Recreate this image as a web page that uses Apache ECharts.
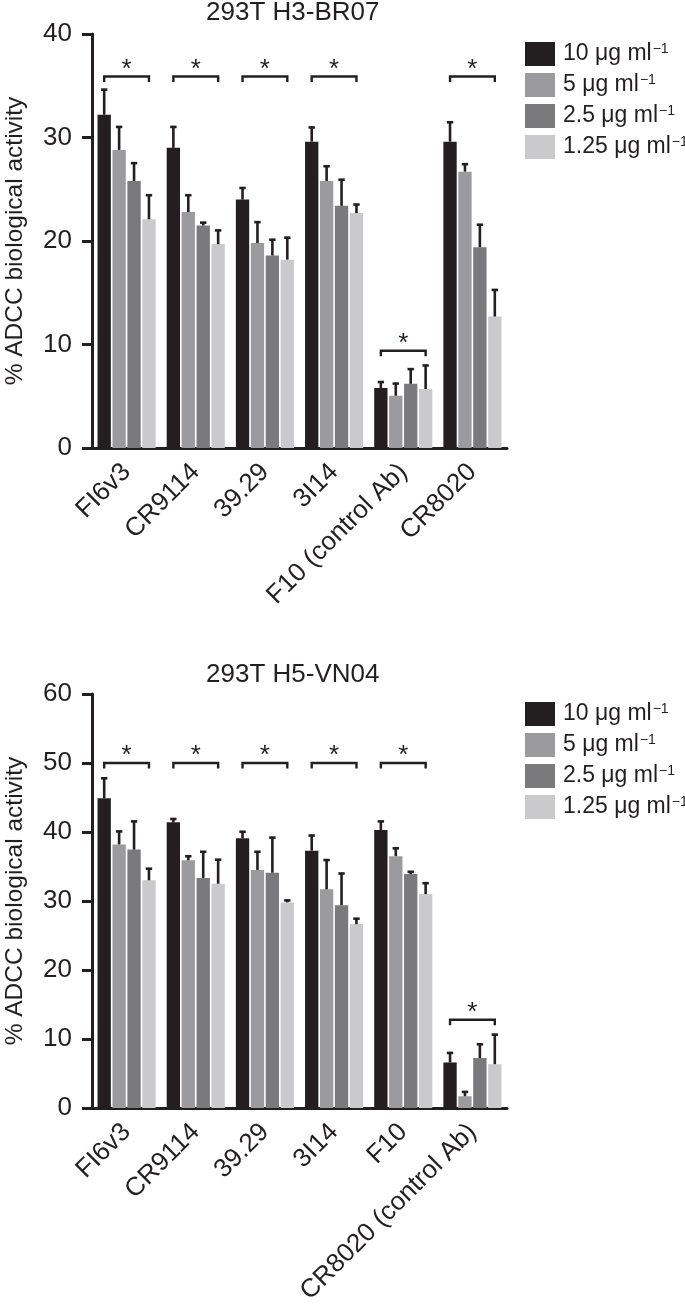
<!DOCTYPE html>
<html>
<head>
<meta charset="utf-8">
<script src="https://cdn.jsdelivr.net/npm/echarts@6/dist/echarts.min.js"></script>
<style>
html,body{margin:0;padding:0;background:#fff;}
#chart{width:685px;height:1312px;}
</style>
</head>
<body>
<div id="chart"></div>
<script>
// ---- data ----
const concentrations = ['10 μg ml', '5 μg ml', '2.5 μg ml', '1.25 μg ml'];
const unitSup = '−1';

const titleTop = '293T H3-BR07';
const categoriesTop = ['FI6v3', 'CR9114', '39.29', '3I14', 'F10 (control Ab)', 'CR8020'];
const top10 = [32.2, 29.0, 24.0, 29.6, 5.8, 29.6];
const top10Err = [2.5, 2.1, 1.2, 1.45, 0.65, 1.95];
const top5 = [28.8, 22.8, 19.8, 25.8, 5.05, 26.7];
const top5Err = [2.3, 1.7, 2.1, 1.5, 1.25, 0.8];
const top2_5 = [25.8, 21.5, 18.6, 23.4, 6.2, 19.4];
const top2_5Err = [1.8, 0.35, 1.6, 2.6, 1.5, 2.25];
const top1_25 = [22.1, 19.7, 18.2, 22.7, 5.7, 12.7];
const top1_25Err = [2.4, 1.4, 2.2, 0.9, 2.35, 2.65];
const topSig = [35.9, 35.9, 35.9, 35.9, 9.4, 35.9];
const topYTicks = [0, 10, 20, 30, 40];

const titleBottom = '293T H5-VN04';
const categoriesBottom = ['FI6v3', 'CR9114', '39.29', '3I14', 'F10', 'CR8020 (control Ab)'];
const bot10 = [44.9, 41.4, 39.1, 37.3, 40.3, 6.6];
const bot10Err = [3.0, 0.6, 1.05, 2.3, 1.35, 1.5];
const bot5 = [38.2, 35.9, 34.5, 31.7, 36.5, 1.7];
const bot5Err = [2.0, 0.7, 2.75, 4.35, 1.25, 0.75];
const bot2_5 = [37.45, 33.35, 34.1, 29.4, 33.9, 7.25];
const bot2_5Err = [4.2, 3.9, 5.2, 4.7, 0.45, 2.1];
const bot1_25 = [33.0, 32.5, 29.8, 26.65, 31.0, 6.35];
const bot1_25Err = [1.8, 3.6, 0.4, 0.9, 1.7, 4.4];
const botSig = [50, 50, 50, 50, 50, 12.8];
const botYTicks = [0, 10, 20, 30, 40, 50, 60];

const yAxisName = '% ADCC biological activity';

// ---- styling ----
const FONT = "'Liberation Sans', Arial, Helvetica, sans-serif";
const INK = '#231f20';
const COLORS = ['#231f20', '#9b9b9d', '#7a7a7c', '#cacacc'];
const CAT_GAP = 0.16;
const BAR_GAP = 0.12;

const topMeans = [top10, top5, top2_5, top1_25];
const topErrs = [top10Err, top5Err, top2_5Err, top1_25Err];
const botMeans = [bot10, bot5, bot2_5, bot1_25];
const botErrs = [bot10Err, bot5Err, bot2_5Err, bot1_25Err];

function barX(api, cat, k) {
  const band = api.size([1, 0])[0];
  const usable = band * (1 - CAT_GAP);
  const bw = usable / (4 + 3 * BAR_GAP);
  const cx = api.coord([cat, 0])[0];
  return cx - usable / 2 + k * bw * (1 + BAR_GAP) + bw / 2;
}

function renderErr(params, api) {
  const cat = api.value(0), k = api.value(1), v = api.value(2), e = api.value(3);
  const x = barX(api, cat, k);
  const y0 = api.coord([cat, v])[1];
  const y1 = api.coord([cat, v + e])[1];
  const st = { stroke: INK, lineWidth: 2.6 };
  return {
    type: 'group',
    children: [
      { type: 'line', shape: { x1: x, y1: y0, x2: x, y2: y1 }, style: st },
      { type: 'line', shape: { x1: x - 3.2, y1: y1 + 0.8, x2: x + 3.2, y2: y1 + 0.8 }, style: st }
    ]
  };
}

function renderSig(params, api) {
  const cat = api.value(0), v = api.value(1);
  const xl = barX(api, cat, 0);
  const xr = barX(api, cat, 3);
  const y = api.coord([cat, v])[1];
  return {
    type: 'group',
    children: [
      { type: 'polyline', shape: { points: [[xl, y + 5.5], [xl, y], [xr, y], [xr, y + 5.5]] },
        style: { stroke: INK, lineWidth: 2.4, fill: null } },
      { type: 'text', x: (xl + xr) / 2, y: y - 7,
        style: { text: '*', fill: INK, font: '26px ' + FONT, textAlign: 'center', textVerticalAlign: 'middle' } }
    ]
  };
}

function errData(means, errs) {
  const out = [];
  for (let k = 0; k < means.length; k++)
    for (let i = 0; i < means[k].length; i++) out.push([i, k, means[k][i], errs[k][i]]);
  return out;
}

const GRID_LEFT = 92, GRID_W = 415, GRID_H = 414;
const grids = [
  { left: GRID_LEFT, top: 34, width: GRID_W, height: GRID_H, containLabel: false, outerBoundsMode: 'none' },
  { left: GRID_LEFT, top: 694, width: GRID_W, height: GRID_H, containLabel: false, outerBoundsMode: 'none' }
];

function xAxisCfg(idx, cats) {
  return {
    type: 'category', gridIndex: idx, data: cats,
    axisLine: { lineStyle: { color: INK, width: 3 } },
    axisTick: { alignWithLabel: true, length: 8, lineStyle: { color: INK, width: 3 } },
    axisLabel: { rotate: 45, margin: 20, color: INK, fontSize: 26, fontFamily: FONT, interval: 0, hideOverlap: false },
    splitLine: { show: false }
  };
}
function yAxisCfg(idx, ticks) {
  return {
    type: 'value', gridIndex: idx, min: ticks[0], max: ticks[ticks.length - 1],
    interval: ticks[1] - ticks[0],
    name: yAxisName, nameLocation: 'middle', nameGap: 64, nameRotate: 90, nameMoveOverlap: false,
    nameTextStyle: { fontSize: 24.5, fontFamily: FONT, color: INK },
    axisLine: { show: true, lineStyle: { color: INK, width: 3 } },
    axisTick: { show: true, length: 10, lineStyle: { color: INK, width: 3 } },
    axisLabel: { margin: 20, color: INK, fontSize: 26, fontFamily: FONT },
    splitLine: { show: false }
  };
}

const series = [];
[[topMeans, 0], [botMeans, 1]].forEach(([means, g]) => {
  means.forEach((arr, k) => {
    series.push({
      type: 'bar', name: concentrations[k], xAxisIndex: g, yAxisIndex: g,
      data: arr, barCategoryGap: (CAT_GAP * 100) + '%', barGap: (BAR_GAP * 100) + '%',
      itemStyle: { color: COLORS[k] }, z: 2, silent: true
    });
  });
});
series.push({ type: 'custom', xAxisIndex: 0, yAxisIndex: 0, renderItem: renderErr,
  data: errData(topMeans, topErrs), encode: { x: 0, y: 2 }, z: 5, silent: true });
series.push({ type: 'custom', xAxisIndex: 1, yAxisIndex: 1, renderItem: renderErr,
  data: errData(botMeans, botErrs), encode: { x: 0, y: 2 }, z: 5, silent: true });
series.push({ type: 'custom', xAxisIndex: 0, yAxisIndex: 0, renderItem: renderSig,
  data: topSig.map((v, i) => [i, v]), encode: { x: 0, y: 1 }, z: 5, silent: true });
series.push({ type: 'custom', xAxisIndex: 1, yAxisIndex: 1, renderItem: renderSig,
  data: botSig.map((v, i) => [i, v]), encode: { x: 0, y: 1 }, z: 5, silent: true });

function legendCfg(top) {
  return {
    orient: 'vertical', left: 525, top: top, itemWidth: 30, itemHeight: 24, itemGap: 7,
    icon: 'rect', data: concentrations, selectedMode: false, padding: 0,
    formatter: name => '{t|' + name + '}{s|' + unitSup + '}',
    textStyle: {
      color: INK, fontFamily: FONT, padding: [0, 0, 0, 3],
      rich: {
        t: { fontSize: 23, fontFamily: FONT, color: INK, lineHeight: 24 },
        s: { fontSize: 14, fontFamily: FONT, color: INK, lineHeight: 14, verticalAlign: 'top', padding: [0, 0, 0, 1] }
      }
    }
  };
}

const option = {
  animation: false,
  backgroundColor: '#fff',
  title: [
    { text: titleTop, left: 206, top: 0, padding: 0, textStyle: { fontSize: 26, fontWeight: 'normal', color: INK, fontFamily: FONT } },
    { text: titleBottom, left: 206, top: 662, padding: 0, textStyle: { fontSize: 26, fontWeight: 'normal', color: INK, fontFamily: FONT } }
  ],
  legend: [legendCfg(42), legendCfg(702)],
  grid: grids,
  xAxis: [xAxisCfg(0, categoriesTop), xAxisCfg(1, categoriesBottom)],
  yAxis: [yAxisCfg(0, topYTicks), yAxisCfg(1, botYTicks)],
  series: series
};

const chart = echarts.init(document.getElementById('chart'), null, { renderer: 'canvas' });
chart.setOption(option);
</script>
</body>
</html>
